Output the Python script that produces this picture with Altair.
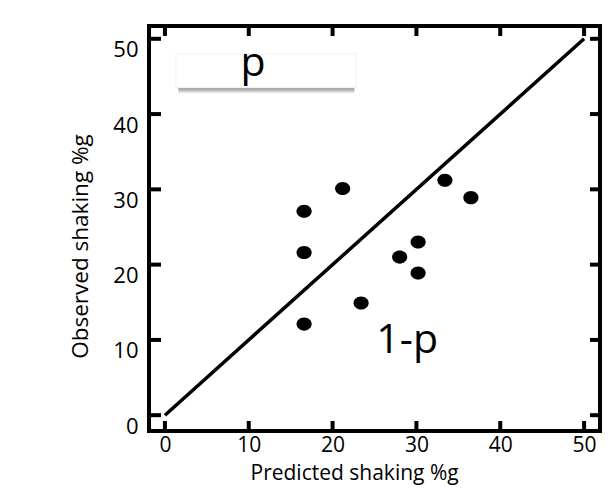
import altair as alt
import pandas as pd

# Data
predicted = [16.6, 21.2, 16.6, 16.6, 23.4, 28.0, 30.2, 30.2, 33.4, 36.5]
observed = [27.1, 30.1, 21.6, 12.1, 14.9, 21.0, 23.0, 18.9, 31.2, 28.9]
line_x = [0, 50]
line_y = [0, 50]
tick_values = [0, 10, 20, 30, 40, 50]
labels = ["p", "1-p"]
label_x = [10.5, 28.9]
label_y = [45.0, 8.24]
box_x = [1.3, 22.8]
box_y = [43.5, 48.0]
shadow_y = [42.7, 43.5]

W, H = 451, 405
FONT = "Open Sans"

xs = alt.Scale(domain=[-1.9, 51.9], nice=False, zero=False)
ys = alt.Scale(domain=[-2.1, 51.7], nice=False, zero=False)

pts = pd.DataFrame({"pred": predicted, "obs": observed})
ln = pd.DataFrame({"x": line_x, "y": line_y})
tk = pd.DataFrame({"v": tick_values})
lab = pd.DataFrame({"t": labels, "x": label_x, "y": label_y})
box = pd.DataFrame({"x": [box_x[0]], "x2": [box_x[1]], "y": [box_y[0]], "y2": [box_y[1]]})
shadow = pd.DataFrame({"x": [box_x[0] + 0.3], "x2": [box_x[1] - 0.2], "y": [shadow_y[0]], "y2": [shadow_y[1]]})

x_axis = alt.Axis(values=tick_values, domain=False, ticks=False, tickSize=0, grid=False,
                  labelFont=FONT, labelFontSize=21, labelColor="black",
                  labelPadding=20, labelBaseline="alphabetic",
                  title="Predicted shaking %g", titleFont=FONT, titleFontSize=21,
                  titleFontWeight="normal", titleColor="black",
                  titleAlign="left", titleX=101, titleY=48.5, titleBaseline="alphabetic")
y_axis = alt.Axis(values=tick_values, domain=False, ticks=False, tickSize=0, grid=False,
                  labelFont=FONT, labelFontSize=22, labelColor="black",
                  labelPadding=11, labelBaseline="alphabetic", labelOffset=18,
                  title="Observed shaking %g", titleFont=FONT, titleFontSize=22.5,
                  titleFontWeight="normal", titleColor="black", titleAngle=-90,
                  titleAlign="center", titleX=-61.5, titleY=220, titleBaseline="alphabetic")

shadow_grad = alt.LinearGradient(
    gradient="linear",
    stops=[alt.GradientStop(color="#8a8a8a", offset=0), alt.GradientStop(color="#ffffff", offset=1)],
    x1=0, x2=0, y1=0, y2=1,
)

line_layer = alt.Chart(ln).mark_line(color="black", strokeWidth=3.5).encode(
    x=alt.X("x:Q", scale=xs, axis=x_axis), y=alt.Y("y:Q", scale=ys, axis=y_axis))

shadow_layer = alt.Chart(shadow).mark_rect(color=shadow_grad).encode(
    x=alt.X("x:Q", scale=xs), x2="x2:Q",
    y=alt.Y("y2:Q", scale=ys), y2="y:Q")

box_layer = alt.Chart(box).mark_rect(fill="white", stroke="#f0f0f0", strokeWidth=1).encode(
    x=alt.X("x:Q", scale=xs), x2="x2:Q",
    y=alt.Y("y:Q", scale=ys), y2="y2:Q")

ellipse = "M -1 0 A 1 0.86 0 1 0 1 0 A 1 0.86 0 1 0 -1 0 Z"
pt_layer = alt.Chart(pts).mark_point(filled=True, color="black", opacity=1, shape=ellipse, size=230).encode(
    x=alt.X("pred:Q", scale=xs), y=alt.Y("obs:Q", scale=ys))

text_layer = alt.Chart(lab).mark_text(font=FONT, fontSize=41, baseline="alphabetic", align="center",
                                      color="black").encode(
    x=alt.X("x:Q", scale=xs), y=alt.Y("y:Q", scale=ys), text="t:N")

tick_kw = dict(color="black", strokeWidth=4)
bottom_ticks = alt.Chart(tk).mark_rule(**tick_kw).encode(
    x=alt.X("v:Q", scale=xs), y=alt.value(H), y2=alt.value(H - 10))
top_ticks = alt.Chart(tk).mark_rule(**tick_kw).encode(
    x=alt.X("v:Q", scale=xs), y=alt.value(0), y2=alt.value(10))
left_ticks = alt.Chart(tk).mark_rule(**tick_kw).encode(
    y=alt.Y("v:Q", scale=ys), x=alt.value(0), x2=alt.value(12))
right_ticks = alt.Chart(tk).mark_rule(**tick_kw).encode(
    y=alt.Y("v:Q", scale=ys), x=alt.value(W), x2=alt.value(W - 10))

chart = alt.layer(
    line_layer, shadow_layer, box_layer, pt_layer, text_layer,
    bottom_ticks, top_ticks, left_ticks, right_ticks,
).properties(
    width=W, height=H,
    autosize=alt.AutoSizeParams(type="none"),
    padding={"left": 141, "top": 18, "right": 7, "bottom": 58},
    background="white",
).configure_view(stroke="black", strokeWidth=4, fill="white")

chart.save("out.html", embed_options={"renderer": "svg", "actions": False})
